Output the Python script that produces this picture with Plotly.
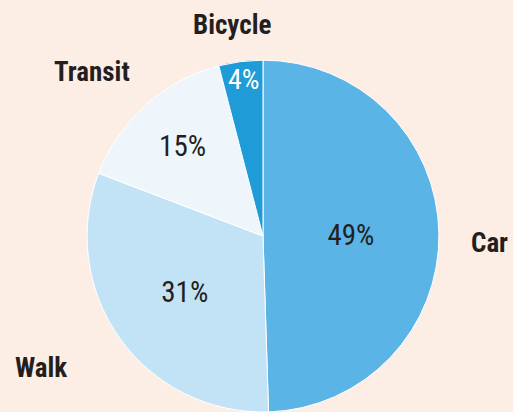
import plotly.graph_objects as go

categories = ["Car", "Walk", "Transit", "Bicycle"]
values = [49, 31, 15, 4]
pct_labels = ["49%", "31%", "15%", "4%"]
colors = ["#5ab4e6", "#c2e3f5", "#eef6fc", "#1f9bd7"]
text_colors = ["#231f20", "#231f20", "#231f20", "#ffffff"]

label_pos = {
    "Car": (0.955, 0.41),
    "Walk": (0.08, 0.107),
    "Transit": (0.179, 0.825),
    "Bicycle": (0.452, 0.939),
}
# the narrow Bicycle slice: its percentage is placed as an annotation so it is not shrunk
small_slice_pos = (0.4756, 0.806)

FONT = "Roboto Condensed, DejaVu Sans Condensed, Roboto, sans-serif"

positions = ["inside", "inside", "inside", "none"]

fig = go.Figure(go.Pie(
    labels=categories,
    values=values,
    text=pct_labels,
    textinfo="text",
    textposition=positions,
    insidetextorientation="horizontal",
    sort=False,
    direction="clockwise",
    rotation=0,
    marker=dict(colors=colors, line=dict(color="#ffffff", width=1)),
    textfont=dict(family=FONT, size=29, color=text_colors),
    showlegend=False,
    hoverinfo="label+text",
    domain=dict(x=[0.1676, 0.8577], y=[0.0, 0.854]),
))

fig.add_annotation(
    x=small_slice_pos[0], y=small_slice_pos[1], xref="paper", yref="paper",
    text=pct_labels[3], showarrow=False, xanchor="center", yanchor="middle",
    font=dict(family=FONT, size=28, color=text_colors[3]),
)

for name in categories:
    x, y = label_pos[name]
    fig.add_annotation(
        x=x, y=y, xref="paper", yref="paper", text="<b>%s</b>" % name,
        showarrow=False, xanchor="center", yanchor="middle",
        font=dict(family=FONT, size=27, color="#231f20"),
    )

fig.update_layout(
    width=513, height=412,
    margin=dict(l=0, r=0, t=0, b=0),
    paper_bgcolor="#fdeee5",
    plot_bgcolor="#fdeee5",
)

fig.write_html(
    "out.html",
    config={"displayModeBar": False},
    post_script="document.body.style.margin='0';document.body.style.overflow='hidden';document.body.style.background='#fdeee5';",
)
